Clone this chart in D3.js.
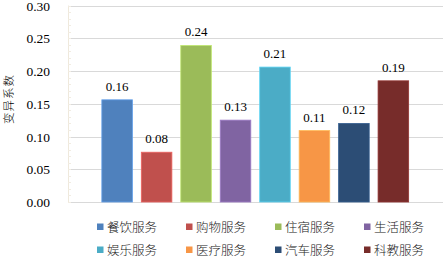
<!DOCTYPE html>
<html>
<head>
<meta charset="utf-8">
<script src="https://cdn.jsdelivr.net/npm/d3@7"></script>
<style>
  html, body { margin: 0; padding: 0; background: #fff; }
  svg { display: block; }
</style>
</head>
<body>
<svg id="chart" width="443" height="258"></svg>
<script>
// data
const categories = ['餐饮服务', '购物服务', '住宿服务', '生活服务', '娱乐服务', '医疗服务', '汽车服务', '科教服务'];
const values = [0.156, 0.076, 0.239, 0.125, 0.206, 0.109, 0.120, 0.185];
const labels = ['0.16', '0.08', '0.24', '0.13', '0.21', '0.11', '0.12', '0.19'];
const colors = ['#4f81bd', '#c0504d', '#9bbb59', '#8064a2', '#4bacc6', '#f79646', '#2c4d75', '#772c2a'];
const yTicks = [0, 0.05, 0.10, 0.15, 0.20, 0.25, 0.30];

const svg = d3.select('#chart');

const x = d3.scaleBand()
  .domain(categories)
  .range([97.5, 413])
  .paddingInner(0.225)
  .paddingOuter(0.11);

const y = d3.scaleLinear()
  .domain([0, 0.30])
  .range([202, 5.5]);

const serif = '"Liberation Serif", "Times New Roman", serif';
const cjk = '"Noto Sans CJK SC", sans-serif';

// grid
svg.append('g')
  .selectAll('line')
  .data(yTicks)
  .enter()
  .append('line')
  .attr('x1', 68)
  .attr('x2', 443)
  .attr('y1', d => Math.round(y(d)) + 0.5)
  .attr('y2', d => Math.round(y(d)) + 0.5)
  .attr('stroke', '#d9d9d9')
  .attr('stroke-width', 1);

// faint vertical axis line with minor ticks
svg.append('line')
  .attr('x1', 68.5).attr('x2', 68.5)
  .attr('y1', y(0.30)).attr('y2', y(0) + 0.5)
  .attr('stroke', '#efe9dc');

svg.append('g')
  .selectAll('line')
  .data(d3.range(0, 31).map(d => d / 100))
  .enter()
  .append('line')
  .attr('x1', 68).attr('x2', 71)
  .attr('y1', d => Math.round(y(d)) + 0.5)
  .attr('y2', d => Math.round(y(d)) + 0.5)
  .attr('stroke', '#f1ece2');

// y tick labels
svg.append('g')
  .selectAll('text')
  .data(yTicks)
  .enter()
  .append('text')
  .attr('x', 50)
  .attr('y', d => y(d) + 5)
  .attr('text-anchor', 'end')
  .attr('font-family', serif)
  .attr('font-size', 13.5)
  .attr('fill', '#000')
  .text(d => d.toFixed(2));

// y axis title
svg.append('text')
  .attr('transform', 'translate(9,99) rotate(-90)')
  .attr('text-anchor', 'middle')
  .attr('dy', '0.35em')
  .attr('font-family', cjk)
  .attr('font-size', 11.5)
  .attr('font-weight', 300)
  .attr('letter-spacing', 1)
  .text('变异系数');

// bars
svg.append('g')
  .selectAll('rect')
  .data(values)
  .enter()
  .append('rect')
  .attr('x', (d, i) => x(categories[i]))
  .attr('y', d => y(d))
  .attr('width', x.bandwidth())
  .attr('height', d => y(0) - y(d))
  .attr('fill', (d, i) => colors[i])
  .attr('stroke', (d, i) => d3.color(colors[i]).brighter(0.6))
  .attr('stroke-width', 0.8);

// value labels
svg.append('g')
  .selectAll('text')
  .data(values)
  .enter()
  .append('text')
  .attr('x', (d, i) => x(categories[i]) + x.bandwidth() / 2)
  .attr('y', d => y(d) - 9)
  .attr('text-anchor', 'middle')
  .attr('font-family', serif)
  .attr('font-size', 13)
  .attr('fill', '#000')
  .text((d, i) => labels[i]);

// legend
const legend = svg.append('g')
  .selectAll('g')
  .data(categories)
  .enter()
  .append('g')
  .attr('transform', (d, i) => `translate(${97 + (i % 4) * 89},${i < 4 ? 227 : 250})`);

legend.append('rect')
  .attr('x', 0)
  .attr('y', -3.5)
  .attr('width', 6.5)
  .attr('height', 6.5)
  .attr('fill', (d, i) => colors[i]);

legend.append('text')
  .attr('x', 10)
  .attr('y', 0)
  .attr('dy', '0.36em')
  .attr('font-family', cjk)
  .attr('font-size', 12.5)
  .attr('font-weight', 300)
  .attr('fill', '#222')
  .text(d => d);
</script>
</body>
</html>
